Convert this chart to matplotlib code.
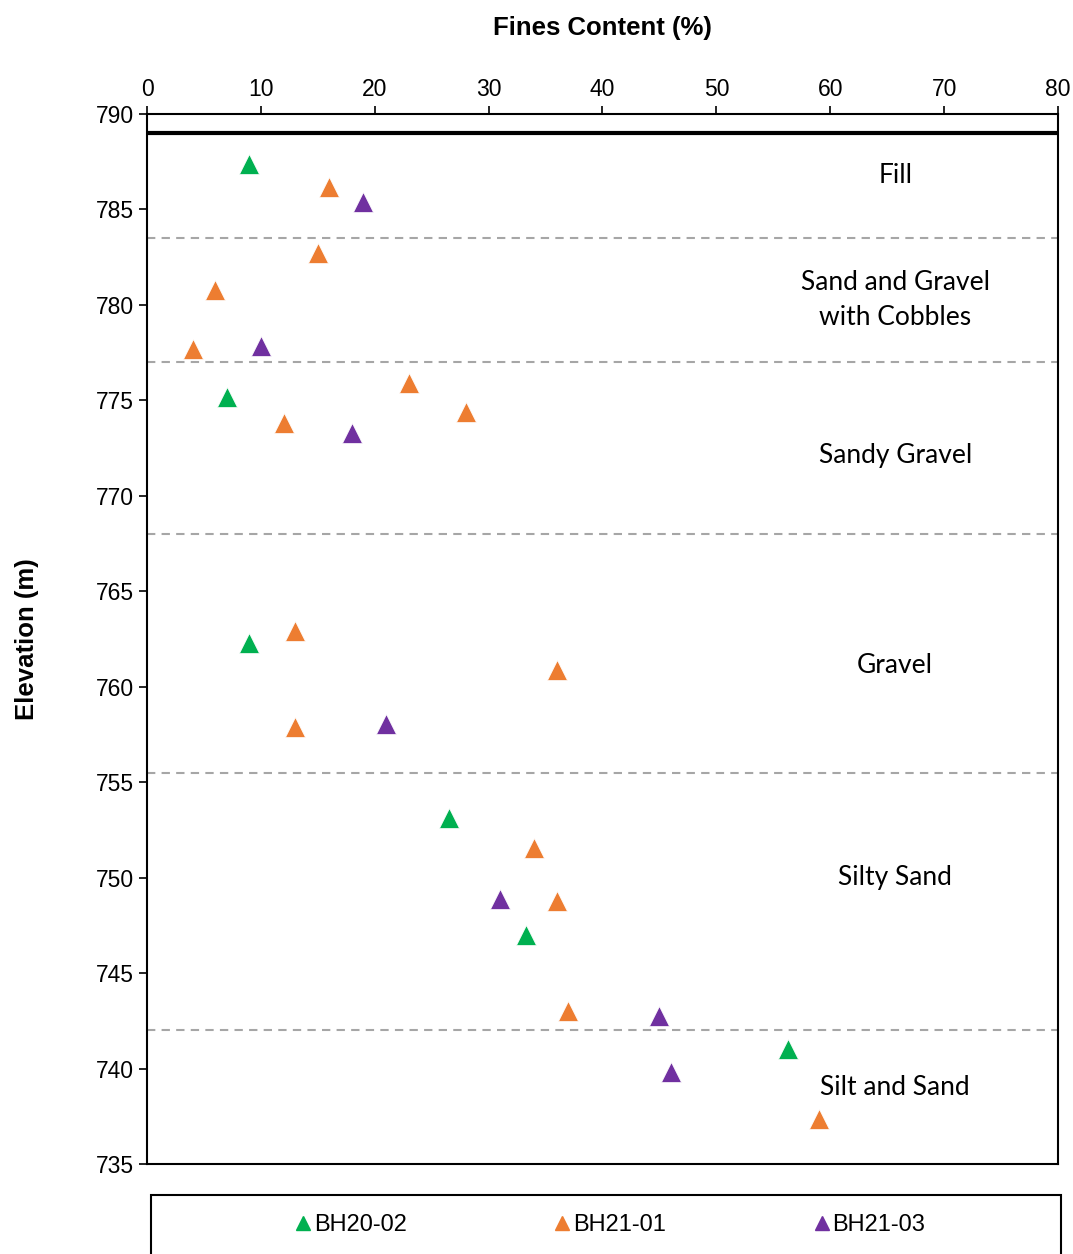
import matplotlib.pyplot as plt
from matplotlib.lines import Line2D
from matplotlib.patches import Rectangle

# data
bh2002_fines = [9, 7, 9, 26.5, 33.3, 56.3]
bh2002_elev = [787.4, 775.2, 762.3, 753.1, 747.0, 741.0]

bh2101_fines = [16, 15, 6, 4, 23, 28, 12, 13, 36, 13, 34, 36, 37, 59]
bh2101_elev = [786.2, 782.7, 780.8, 777.7, 775.9, 774.4, 773.8,
               762.9, 760.9, 757.9, 751.55, 748.8, 743.0, 737.35]

bh2103_fines = [19, 10, 18, 21, 31, 45, 46]
bh2103_elev = [785.4, 777.85, 773.3, 758.05, 748.9, 742.75, 739.8]

ground_elev = 789
layer_bounds = [783.5, 777.0, 768.0, 755.5, 742.0]
layer_names = ["Fill", "Sand and Gravel\nwith Cobbles", "Sandy Gravel",
               "Gravel", "Silty Sand", "Silt and Sand"]
layer_label_elev = [786.8, 780.25, 772.1, 761.1, 750.0, 739.0]

series = [("BH20-02", bh2002_fines, bh2002_elev, "#00b050"),
          ("BH21-01", bh2101_fines, bh2101_elev, "#ed7d31"),
          ("BH21-03", bh2103_fines, bh2103_elev, "#7030a0")]

plt.rcParams['font.family'] = ['Liberation Sans', 'DejaVu Sans']

fig = plt.figure(figsize=(10.73, 12.54), dpi=100)
ax = fig.add_axes([0.137, 0.0718, 0.849, 0.8373])

for name, xs, ys, col in series:
    ax.plot(xs, ys, linestyle='none', marker='^', markersize=14.5,
            color=col, markeredgecolor='white', markeredgewidth=0.5, zorder=3)

ax.axhline(ground_elev, color='black', lw=3, zorder=2)
for b in layer_bounds:
    ax.axhline(b, color='#a6a6a6', lw=1.5, ls=(0, (4, 3)), zorder=1)

for name, y in zip(layer_names, layer_label_elev):
    ax.text(65.7, y, name, ha='center', va='center', fontsize=19,
            family=['Lato', 'DejaVu Sans'], linespacing=1.5)

ax.set_xlim(0, 80)
ax.set_ylim(735, 790)
ax.set_xticks(range(0, 81, 10))
ax.set_yticks(range(735, 791, 5))
ax.xaxis.tick_top()
ax.xaxis.set_label_position('top')
ax.tick_params(direction='out', length=6, width=1.2, labelsize=16.5)
for s in ax.spines.values():
    s.set_linewidth(1.5)
ax.set_xlabel("Fines Content (%)", fontsize=18.5, fontweight='bold', labelpad=31)
ax.set_ylabel("Elevation (m)", fontsize=18.5, fontweight='bold', labelpad=41)

# legend box below the axes
fig.patches.append(Rectangle((0.1407, -0.01), 0.848, 0.057,
                             transform=fig.transFigure, fill=False,
                             edgecolor='black', lw=1.5))
handles = [Line2D([], [], linestyle='none', marker='^', markersize=10, color=c)
           for _, _, _, c in series]
labels = [n for n, _, _, _ in series]
fig.legend(handles, labels, loc='center', bbox_to_anchor=(0.568, 0.0231),
           ncol=3, frameon=False, fontsize=17, handletextpad=0.05,
           handlelength=0.8, columnspacing=6.2)

fig.savefig("out.png", dpi=100)
